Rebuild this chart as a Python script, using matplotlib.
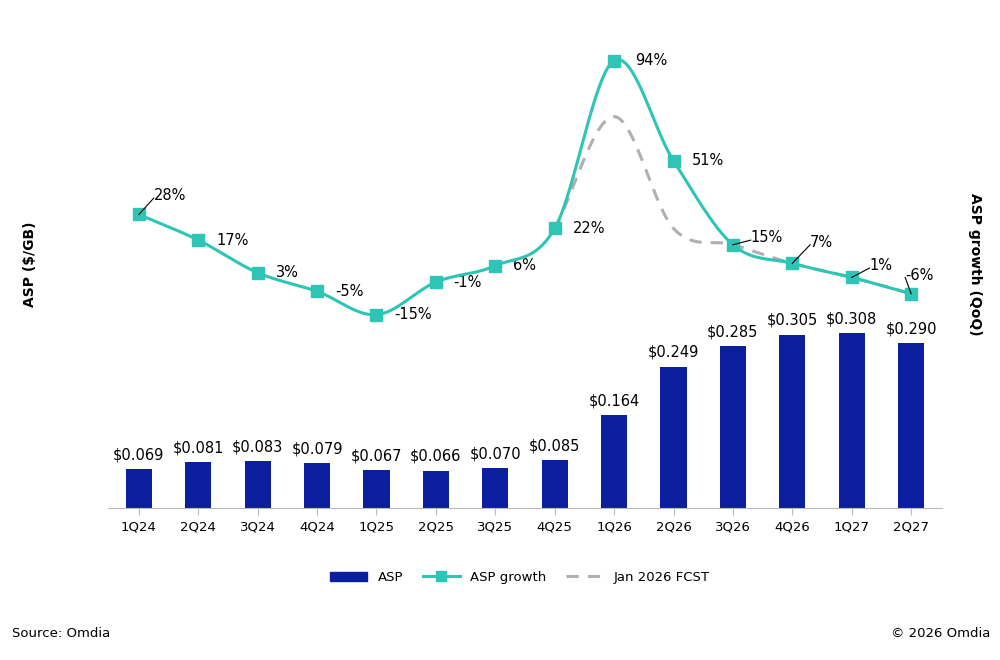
import numpy as np
import matplotlib.pyplot as plt
from matplotlib.lines import Line2D
from matplotlib.patches import Patch

quarters = ["1Q24", "2Q24", "3Q24", "4Q24", "1Q25", "2Q25", "3Q25", "4Q25",
            "1Q26", "2Q26", "3Q26", "4Q26", "1Q27", "2Q27"]
asp = [0.069, 0.081, 0.083, 0.079, 0.067, 0.066, 0.070, 0.085,
       0.164, 0.249, 0.285, 0.305, 0.308, 0.290]
growth = [28, 17, 3, -5, -15, -1, 6, 22, 94, 51, 15, 7, 1, -6]
fcst_idx = [7, 8, 9, 10, 11, 12, 13]
fcst = [22, 70, 22, 15, 7, 1, -6]

NAVY = "#0b1f9e"
TEAL = "#2ec4b6"


def smooth(xs, ys, n=20):
    # Catmull-Rom through the points, for the curved look of the reference
    xs = np.asarray(xs, float); ys = np.asarray(ys, float)
    px = np.concatenate([[2 * xs[0] - xs[1]], xs, [2 * xs[-1] - xs[-2]]])
    py = np.concatenate([[2 * ys[0] - ys[1]], ys, [2 * ys[-1] - ys[-2]]])
    ox, oy = [], []
    for i in range(1, len(px) - 2):
        t = np.linspace(0, 1, n, endpoint=False)
        for arr, out in ((px, ox), (py, oy)):
            p0, p1, p2, p3 = arr[i - 1], arr[i], arr[i + 1], arr[i + 2]
            out.extend(0.5 * (2 * p1 + (-p0 + p2) * t + (2 * p0 - 5 * p1 + 4 * p2 - p3) * t ** 2
                              + (-p0 + 3 * p1 - 3 * p2 + p3) * t ** 3))
    ox.append(xs[-1]); oy.append(ys[-1])
    return np.array(ox), np.array(oy)


fig = plt.figure(figsize=(10, 6.6), dpi=100)
ax = fig.add_axes([0.108, 0.23, 0.834, 0.71])
x = np.arange(len(quarters))
ax.bar(x, asp, width=0.44, color=NAVY, zorder=2)
for xi, v in zip(x, asp):
    ax.text(xi, v + 0.012, f"${v:.3f}", ha="center", va="bottom", fontsize=10.5)
ax.set_ylim(0, 0.824)
ax.set_xlim(-0.52, 13.52)
ax.set_yticks([])
ax.set_xticks(x)
ax.set_xticklabels(quarters, fontsize=9.5)
for s in ["left", "right", "top"]:
    ax.spines[s].set_visible(False)
ax.spines["bottom"].set_color("#bbbbbb")
ax.tick_params(axis="x", color="#bbbbbb", length=5)

ax2 = ax.twinx()
ax2.set_ylim(-98, 103)
ax2.set_yticks([])
for s in ax2.spines.values():
    s.set_visible(False)
fx, fy = smooth(fcst_idx, fcst)
ax2.plot(fx, fy, color="#b0b0b0", lw=2.2, ls=(0, (4, 3)), zorder=3)
sx, sy = smooth(x, growth)
ax2.plot(sx, sy, color=TEAL, lw=2.2, zorder=4)
ax2.plot(x, growth, "s", color=TEAL, ms=8, zorder=5)

offsets = {0: (0.25, 8), 8: (0.35, 0), 10: (0.3, 3), 11: (0.3, 9), 12: (0.3, 5), 13: (-0.1, 8)}
for xi, g in zip(x, growth):
    dx, dy = offsets.get(xi, (0.3, 0))
    ax2.text(xi + dx, g + dy, f"{g}%", ha="left", va="center", fontsize=10.5)
    if xi in (0, 10, 11, 12, 13):
        ax2.plot([xi, xi + dx], [g, g + dy - 1], color="black", lw=0.8, zorder=6)

fig.text(0.03, 0.6, "ASP ($/GB)", rotation=90, ha="center", va="center", fontsize=10, fontweight="bold")
fig.text(0.975, 0.6, "ASP growth (QoQ)", rotation=-90, ha="center", va="center", fontsize=10, fontweight="bold")

handles = [Patch(color=NAVY),
           Line2D([], [], color=TEAL, lw=2.2, marker="s", ms=7),
           Line2D([], [], color="#b0b0b0", lw=2.2, ls=(0, (4, 3)))]
fig.legend(handles, ["ASP", "ASP growth", "Jan 2026 FCST"], loc="center", bbox_to_anchor=(0.52, 0.125),
           ncol=3, frameon=False, fontsize=9.5, handlelength=2.8, columnspacing=1.5)
fig.text(0.012, 0.04, "Source: Omdia", fontsize=9.5, va="center")
fig.text(0.99, 0.04, "© 2026 Omdia", fontsize=9.5, va="center", ha="right")
fig.savefig("out.png", dpi=100)
